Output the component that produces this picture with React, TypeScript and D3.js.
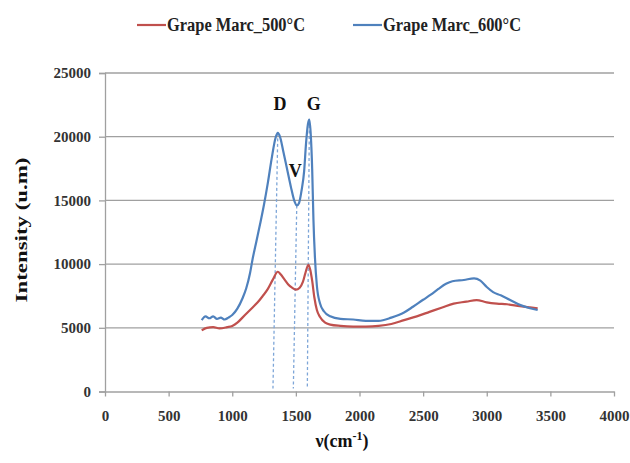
import * as d3 from "d3";
import React from "react";

// wavenumber (cm-1) and intensity
const blueX = [760, 790, 820, 850, 880, 910, 940, 970, 1000, 1040, 1080, 1110, 1140, 1160, 1190, 1220, 1250, 1280, 1310, 1340, 1358, 1375, 1400, 1430, 1460, 1490, 1507, 1525, 1545, 1565, 1580, 1595, 1606, 1618, 1628, 1638, 1650, 1665, 1690, 1720, 1770, 1850, 1950, 2050, 2150, 2250, 2350, 2420, 2500, 2560, 2620, 2680, 2730, 2820, 2900, 2950, 3000, 3050, 3110, 3180, 3260, 3340, 3400];
const blueY = [5600, 5900, 5750, 5900, 5700, 5800, 5650, 5800, 6000, 6500, 7300, 8100, 9300, 10400, 11800, 13200, 14700, 16400, 18300, 19900, 20300, 20000, 18900, 17500, 16100, 14900, 14600, 14800, 15800, 17300, 19500, 21000, 21350, 20000, 17500, 13500, 10500, 8300, 6900, 6300, 5900, 5700, 5650, 5550, 5550, 5800, 6200, 6650, 7200, 7600, 8050, 8450, 8650, 8750, 8880, 8700, 8200, 7800, 7550, 7200, 6800, 6530, 6400];

const redX = [760, 800, 850, 900, 960, 1000, 1040, 1080, 1120, 1160, 1200, 1240, 1280, 1320, 1358, 1380, 1410, 1440, 1470, 1500, 1530, 1555, 1575, 1598, 1612, 1628, 1645, 1665, 1690, 1730, 1770, 1850, 1950, 2050, 2150, 2250, 2350, 2450, 2550, 2650, 2740, 2840, 2920, 3000, 3080, 3160, 3260, 3340, 3400];
const redY = [4800, 5000, 5050, 4950, 5050, 5150, 5400, 5800, 6200, 6600, 7000, 7500, 8050, 8800, 9400, 9200, 8800, 8400, 8150, 8000, 8150, 8600, 9300, 9950, 9600, 8700, 7400, 6400, 5850, 5400, 5250, 5150, 5100, 5100, 5150, 5300, 5600, 5900, 6250, 6600, 6900, 7050, 7180, 7000, 6900, 6850, 6700, 6600, 6530];

const seriesNames = ["Grape Marc_500°C", "Grape Marc_600°C"];
const xTicks = [0, 500, 1000, 1500, 2000, 2500, 3000, 3500, 4000];
const yTicks = [0, 5000, 10000, 15000, 20000, 25000];

// band markers: label, peak position, foot of dashed guide
const bandLabels = ["D", "V", "G"];
const bandTopX = [1358, 1507, 1606];
const bandTopY = [20300, 14600, 21350];
const bandFootX = [1320, 1480, 1590];
const labelX = [1376, 1495, 1640];
const labelY = [22550, 17300, 22550];

const App: React.FC = (): React.ReactElement => {
  const ref = React.useRef<SVGSVGElement>(null);

  React.useEffect(() => {
    const svg = d3.select(ref.current);
    svg.selectAll("*").remove();

    const x = d3.scaleLinear().domain([0, 4000]).range([105, 614]);
    const y = d3.scaleLinear().domain([0, 25000]).range([391.5, 73]);
    const font = "'Liberation Serif', 'Times New Roman', serif";
    const COLORS = ["#c0504d", "#4f81bd"];

    // grid
    svg
      .append("g")
      .selectAll("line")
      .data(yTicks.slice(1))
      .enter()
      .append("line")
      .attr("x1", x(0))
      .attr("x2", x(4000))
      .attr("y1", (d) => y(d))
      .attr("y2", (d) => y(d))
      .attr("stroke", "#a0a0a0")
      .attr("stroke-width", 1.3);

    // y axis
    const yAxis = svg
      .append("g")
      .attr("transform", `translate(${x(0)},0)`)
      .call(d3.axisLeft(y).tickValues(yTicks).tickSize(6).tickPadding(8).tickFormat(d3.format("d")));
    yAxis.select(".domain").attr("stroke", "#a0a0a0").attr("stroke-width", 1.3);
    yAxis.selectAll(".tick line").attr("stroke", "#a0a0a0").attr("stroke-width", 1.3);
    yAxis
      .selectAll("text")
      .attr("font-family", font)
      .attr("font-weight", "bold")
      .attr("font-size", 15)
      .attr("fill", "#333");

    // x axis
    const xAxis = svg
      .append("g")
      .attr("transform", `translate(0,${y(0)})`)
      .call(d3.axisBottom(x).tickValues(xTicks).tickSize(5).tickSizeOuter(0).tickPadding(14).tickFormat(d3.format("d")));
    xAxis.select(".domain").attr("stroke", "#a0a0a0").attr("stroke-width", 1.3);
    xAxis.selectAll(".tick line").attr("stroke", "#a0a0a0").attr("stroke-width", 1.3);
    xAxis
      .selectAll("text")
      .attr("font-family", font)
      .attr("font-weight", "bold")
      .attr("font-size", 15)
      .attr("fill", "#333");

    // dashed guides
    svg
      .append("g")
      .selectAll("line")
      .data(bandLabels)
      .enter()
      .append("line")
      .attr("x1", (_d, i) => x(bandTopX[i]))
      .attr("y1", (_d, i) => y(bandTopY[i]))
      .attr("x2", (_d, i) => x(bandFootX[i]))
      .attr("y2", y(0) - 3)
      .attr("stroke", "#7ea6d8")
      .attr("stroke-width", 1.3)
      .attr("stroke-dasharray", "3,2.5");

    // series
    const line = d3
      .line<[number, number]>()
      .x((d) => x(d[0]))
      .y((d) => y(d[1]))
      .curve(d3.curveMonotoneX);

    const red: [number, number][] = redX.map((v, i) => [v, redY[i]]);
    const blue: [number, number][] = blueX.map((v, i) => [v, blueY[i]]);

    [red, blue].forEach((s, i) => {
      svg
        .append("path")
        .datum(s)
        .attr("d", line)
        .attr("fill", "none")
        .attr("stroke", COLORS[i])
        .attr("stroke-width", 2.2)
        .attr("stroke-linejoin", "round");
    });

    // band labels
    svg
      .append("g")
      .selectAll("text")
      .data(bandLabels)
      .enter()
      .append("text")
      .attr("x", (_d, i) => x(labelX[i]))
      .attr("y", (_d, i) => y(labelY[i]))
      .attr("text-anchor", "middle")
      .attr("dominant-baseline", "central")
      .attr("font-family", font)
      .attr("font-weight", "bold")
      .attr("font-size", 18)
      .attr("fill", "#111")
      .text((d) => d);

    // legend
    const legendX = [137, 353];
    seriesNames.forEach((name, i) => {
      const g = svg.append("g").attr("transform", `translate(${legendX[i]},25)`);
      g.append("line")
        .attr("x1", 0)
        .attr("x2", 29)
        .attr("stroke", COLORS[i])
        .attr("stroke-width", 2.2);
      g.append("text")
        .attr("x", 30)
        .attr("y", 6)
        .attr("font-family", font)
        .attr("font-weight", "bold")
        .attr("font-size", 18)
        .attr("textLength", 138)
        .attr("lengthAdjust", "spacingAndGlyphs")
        .attr("fill", "#222")
        .text(name);
    });

    // axis titles
    svg
      .append("text")
      .attr("transform", `translate(27,230) rotate(-90)`)
      .attr("text-anchor", "middle")
      .attr("font-family", font)
      .attr("font-weight", "bold")
      .attr("font-size", 17)
      .attr("textLength", 145)
      .attr("lengthAdjust", "spacingAndGlyphs")
      .attr("fill", "#111")
      .text("Intensity (u.m)");

    const xt = svg
      .append("text")
      .attr("x", 342)
      .attr("y", 447)
      .attr("text-anchor", "middle")
      .attr("font-family", font)
      .attr("font-weight", "bold")
      .attr("font-size", 18)
      .attr("fill", "#111");
    xt.append("tspan").text("ν(cm");
    xt.append("tspan").attr("dy", -7).attr("font-size", 12).text("-1");
    xt.append("tspan").attr("dy", 7).text(")");
  }, []);

  return (
    <svg
      ref={ref}
      width={630}
      height={463}
      style={{ position: "absolute", left: 0, top: 0, background: "#fff" }}
    />
  );
};

export default App;
